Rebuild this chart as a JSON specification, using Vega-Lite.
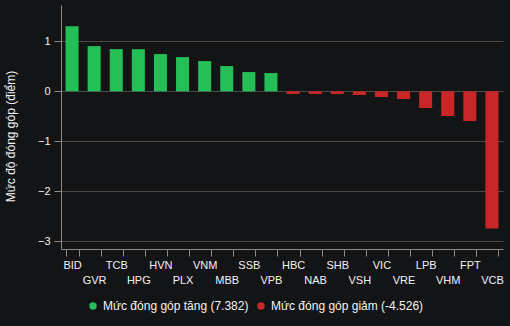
{
  "$schema": "https://vega.github.io/schema/vega-lite/v6.json",
  "width": 442,
  "height": 244,
  "autosize": {"type": "none"},
  "padding": {"left": 61, "top": 5, "right": 7, "bottom": 77},
  "background": "#131416",
  "config": {
    "font": "Liberation Sans",
    "view": {"stroke": null},
    "axis": {"labelFont": "Liberation Sans", "titleFont": "Liberation Sans"}
  },
  "data": {
    "values": [
      {"ma": "BID", "gt": 1.306, "nhom": "Mức đóng góp tăng (7.382)"},
      {"ma": "GVR", "gt": 0.906, "nhom": "Mức đóng góp tăng (7.382)"},
      {"ma": "TCB", "gt": 0.846, "nhom": "Mức đóng góp tăng (7.382)"},
      {"ma": "HPG", "gt": 0.844, "nhom": "Mức đóng góp tăng (7.382)"},
      {"ma": "HVN", "gt": 0.746, "nhom": "Mức đóng góp tăng (7.382)"},
      {"ma": "PLX", "gt": 0.686, "nhom": "Mức đóng góp tăng (7.382)"},
      {"ma": "VNM", "gt": 0.606, "nhom": "Mức đóng góp tăng (7.382)"},
      {"ma": "MBB", "gt": 0.506, "nhom": "Mức đóng góp tăng (7.382)"},
      {"ma": "SSB", "gt": 0.386, "nhom": "Mức đóng góp tăng (7.382)"},
      {"ma": "VPB", "gt": 0.366, "nhom": "Mức đóng góp tăng (7.382)"},
      {"ma": "HBC", "gt": -0.054, "nhom": "Mức đóng góp giảm (-4.526)"},
      {"ma": "NAB", "gt": -0.054, "nhom": "Mức đóng góp giảm (-4.526)"},
      {"ma": "SHB", "gt": -0.055, "nhom": "Mức đóng góp giảm (-4.526)"},
      {"ma": "VSH", "gt": -0.074, "nhom": "Mức đóng góp giảm (-4.526)"},
      {"ma": "VIC", "gt": -0.114, "nhom": "Mức đóng góp giảm (-4.526)"},
      {"ma": "VRE", "gt": -0.154, "nhom": "Mức đóng góp giảm (-4.526)"},
      {"ma": "LPB", "gt": -0.334, "nhom": "Mức đóng góp giảm (-4.526)"},
      {"ma": "VHM", "gt": -0.494, "nhom": "Mức đóng góp giảm (-4.526)"},
      {"ma": "FPT", "gt": -0.594, "nhom": "Mức đóng góp giảm (-4.526)"},
      {"ma": "VCB", "gt": -2.75, "nhom": "Mức đóng góp giảm (-4.526)"}
    ]
  },
  "mark": {"type": "bar"},
  "encoding": {
    "x": {
      "field": "ma",
      "type": "nominal",
      "sort": null,
      "scale": {"paddingInner": 0.41, "paddingOuter": 0.205},
      "axis": {
        "title": null,
        "labelAngle": 0,
        "labelColor": "#f2f2f2",
        "labelFontSize": 11,
        "labelPadding": 3,
        "labelLineHeight": 15,
        "labelExpr": "indexof(['GVR','HPG','PLX','MBB','VPB','NAB','VSH','VRE','VHM','VCB'], datum.value) >= 0 ? ['', datum.label] : datum.label",
        "tickBand": "extent",
        "tickSize": 7,
        "tickColor": "#8a8a8a",
        "domainColor": "#8a8a8a",
        "grid": false
      }
    },
    "y": {
      "field": "gt",
      "type": "quantitative",
      "scale": {"domain": [-3.16, 1.73], "nice": false, "zero": false},
      "axis": {
        "title": "Mức độ đóng góp (điểm)",
        "titleColor": "#f2f2f2",
        "titleFontSize": 12,
        "titleFontWeight": "normal",
        "titleX": -51,
        "titleY": 131,
        "titleAngle": -90,
        "titleAlign": "center",
        "titleBaseline": "middle",
        "values": [-3, -2, -1, 0, 1],
        "labelColor": "#f2f2f2",
        "labelFontSize": 11,
        "labelPadding": 4,
        "tickSize": 7,
        "tickColor": "#8a8a8a",
        "domainColor": "#8a8a8a",
        "gridColor": "#4a4a4a",
        "gridWidth": 1.2
      }
    },
    "color": {
      "field": "nhom",
      "type": "nominal",
      "sort": ["Mức đóng góp tăng (7.382)", "Mức đóng góp giảm (-4.526)"],
      "scale": {
        "domain": ["Mức đóng góp tăng (7.382)", "Mức đóng góp giảm (-4.526)"],
        "range": ["#24bf57", "#c92727"]
      },
      "legend": {
        "title": null,
        "orient": "none",
        "direction": "horizontal",
        "legendX": 26,
        "legendY": 295,
        "symbolType": "circle",
        "symbolSize": 55,
        "symbolStrokeWidth": 0,
        "labelColor": "#f2f2f2",
        "labelFontSize": 12,
        "labelOffset": 4,
        "columnPadding": 6
      }
    }
  }
}
